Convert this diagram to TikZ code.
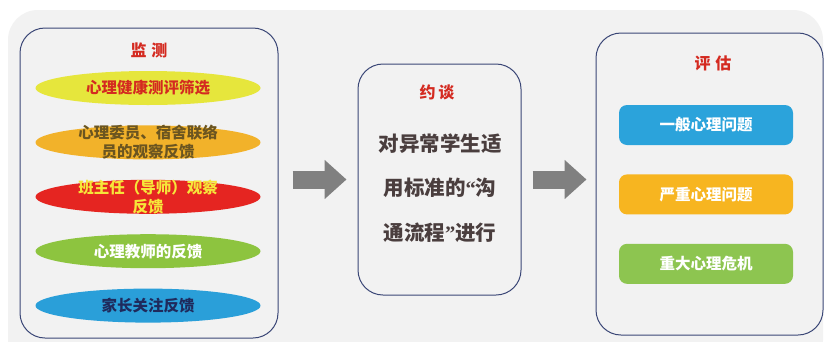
\documentclass[tikz,border=0pt]{standalone}
\usepackage{fontspec}
\newfontfamily\cjk{Noto Sans CJK SC}
\newfontfamily\quotefont{Liberation Serif}
\definecolor{BackGray}{HTML}{F2F2F2}
\definecolor{PanelBorder}{HTML}{3A4676}
\definecolor{ArrowGray}{HTML}{808080}
\definecolor{TitleRed}{HTML}{D42A20}
\definecolor{BodyText}{HTML}{4A3E3E}
\definecolor{OvalYellow}{HTML}{E6E63C}
\definecolor{OvalOrange}{HTML}{F2B22A}
\definecolor{OvalRed}{HTML}{E52521}
\definecolor{OvalGreen}{HTML}{8DC43F}
\definecolor{OvalBlue}{HTML}{2A9FD9}
\definecolor{TextOlive}{HTML}{6B5520}
\definecolor{TextYellow}{HTML}{F6E63A}
\definecolor{TextNavy}{HTML}{1F2A5C}
\definecolor{BoxBlue}{HTML}{2BA3DB}
\definecolor{BoxOrange}{HTML}{F7B520}
\definecolor{BoxGreen}{HTML}{8DC550}
\usetikzlibrary{shapes.geometric,arrows.meta,positioning,calc}
\tikzset{
    % Large rounded panels
    panel/.style={
        rectangle,
        rounded corners=25pt,
        draw=PanelBorder,
        line width=1pt,
        fill=BackGray,
        inner sep=0pt
    },
    panel title/.style={
        font=\cjk\bfseries\fontsize{16}{18}\selectfont,
        text=TitleRed,
        inner sep=0pt
    },
    oval/.style={
        ellipse,
        minimum width=225pt,
        minimum height=34pt,
        inner sep=0pt
    },
    oval text/.style={
        font=\cjk\bfseries\fontsize{15.5}{19}\selectfont,
        align=center,
        inner sep=0pt
    },
    result/.style={
        rectangle,
        rounded corners=8pt,
        minimum width=174pt,
        minimum height=40pt,
        inner sep=0pt,
        text=white,
        font=\cjk\bfseries\fontsize{15.5}{18}\selectfont
    },
    block arrow/.style={
        draw=ArrowGray,
        line width=18pt,
        -{Triangle[length=22pt,width=38pt]}
    }
}
\begin{document}
\begin{tikzpicture}[x=1pt,y=-1pt]
        \useasboundingbox (0,0) rectangle (825,341);
        \fill[white] (0,0) rectangle (825,341);
        \fill[BackGray, rounded corners=30pt] (8,10) rectangle (823,370);

        % Monitoring panel
        \node[panel, minimum width=258pt, minimum height=310pt] (monitor) at (149,183) {};
        \node[panel title] (monitor_t) at (149,50) {监\hspace{5pt}测};
        \node[oval, fill=OvalYellow] (m1) at (148,88) {};
        \node[oval, fill=OvalOrange, below=20pt of m1] (m2) {};
        \node[oval, fill=OvalRed, below=20pt of m2] (m3) {};
        \node[oval, fill=OvalGreen, below=20pt of m3] (m4) {};
        \node[oval, fill=OvalBlue, below=20pt of m4] (m5) {};
        \node[oval text, text=TitleRed] (m1_t) at (m1) {心理健康测评筛选};
        \node[oval text, text=TextOlive] (m2_t) at (m2) {心理委员、宿舍联络\\员的观察反馈};
        \node[oval text, text=TextYellow] (m3_t) at (m3) {班主任（导师）观察\\反馈};
        \node[oval text, text=white] (m4_t) at (m4) {心理教师的反馈};
        \node[oval text, text=TextNavy] (m5_t) at (m5) {家长关注反馈};

        % Interview panel
        \node[panel, minimum width=163pt, minimum height=231pt] (talk) at (439.5,179.5) {};
        \node[panel title] (talk_t) at (437,92) {约\hspace{3pt}谈};
        \node[font=\cjk\bfseries\fontsize{20.5}{44.5}\selectfont, text=BodyText, align=center, inner sep=0pt]
              (talk_b) at (440,188) {对异常学生适\\用标准的{\quotefont “}沟\\通流程{\quotefont ”}进行};

        % Assessment panel
        \node[panel, minimum width=227pt, minimum height=302pt] (assess) at (709.5,184) {};
        \node[panel title] (assess_t) at (713,63) {评\hspace{5pt}估};
        \node[result, fill=BoxBlue] (r1) at (706,125) {一般心理问题};
        \node[result, fill=BoxOrange, below=29pt of r1] (r2) {严重心理问题};
        \node[result, fill=BoxGreen, below=29pt of r2] (r3) {重大心理危机};

        % Arrows
        \draw[block arrow, shorten <=14pt, shorten >=11pt] (monitor.east |- talk.center) -- (talk.west);
        \draw[block arrow, shorten <=11pt, shorten >=9pt] (talk.east) -- (assess.west |- talk.center);
    \end{tikzpicture}
\end{document}
